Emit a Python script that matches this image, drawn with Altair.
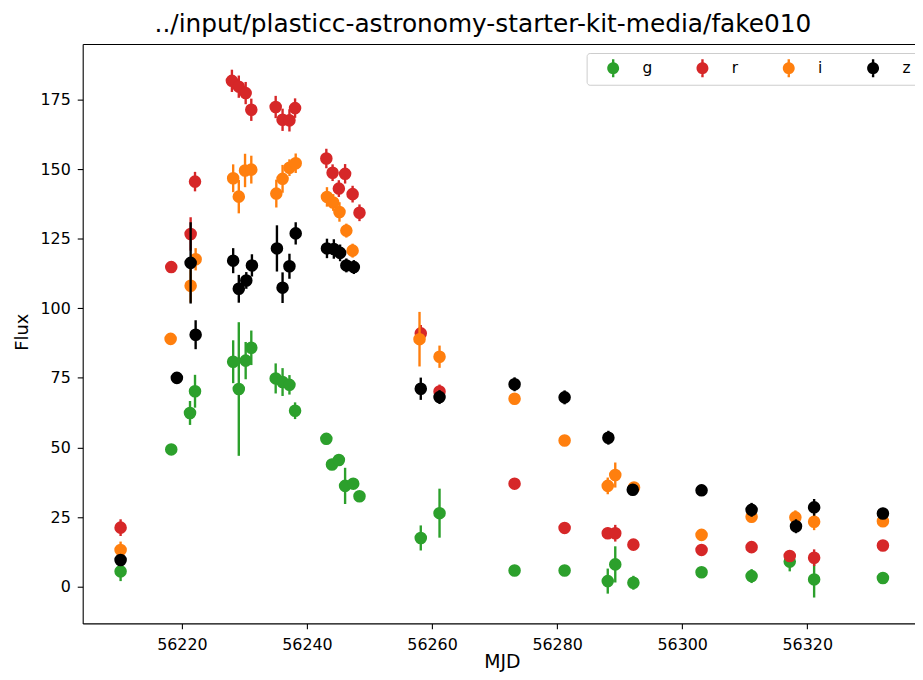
import altair as alt
import pandas as pd

TITLE = "../input/plasticc-astronomy-starter-kit-media/fake010"
bands = ["g", "r", "i", "z"]
band_colors = ["#2ca02c", "#d62728", "#ff7f0e", "#000000"]
x_ticks = [56220, 56240, 56260, 56280, 56300, 56320]
y_ticks = [0, 25, 50, 75, 100, 125, 150, 175]

mjd_g = [56210.2, 56218.3, 56221.3, 56222.1, 56228.2, 56229.1, 56230.2, 56231.1, 56235.0, 56236.1,
         56237.2, 56238.1, 56243.1, 56244.0, 56245.1, 56246.1, 56247.4, 56248.4, 56258.2, 56261.2,
         56273.2, 56281.2, 56288.1, 56289.3, 56292.2, 56303.1, 56311.1, 56317.2, 56321.1, 56332.1]
flux_g = [5.5, 49.3, 62.4, 70.2, 80.8, 71.0, 81.2, 85.8, 74.8, 73.5,
          72.5, 63.2, 53.1, 43.9, 45.5, 36.2, 37.0, 32.5, 17.5, 26.4,
          5.8, 5.8, 2.0, 8.0, 1.4, 5.2, 3.8, 9.0, 2.6, 3.1]
err_g = [3.5, 1.5, 4.3, 5.9, 7.7, 24.0, 6.7, 6.2, 5.4, 5.0,
         3.5, 3.0, 2.0, 2.0, 1.5, 6.5, 1.0, 1.0, 4.5, 8.8,
         1.0, 1.0, 4.5, 6.5, 2.5, 1.0, 2.5, 3.5, 6.5, 1.0]

mjd_r = [56210.2, 56218.3, 56221.4, 56222.1, 56228.0, 56229.1, 56230.2, 56231.1, 56235.0, 56236.1,
         56237.2, 56238.1, 56243.1, 56244.1, 56245.1, 56246.1, 56247.3, 56248.4, 56258.2, 56261.2,
         56273.2, 56281.2, 56288.1, 56289.3, 56292.2, 56303.1, 56311.1, 56317.2, 56321.1, 56332.1]
flux_r = [21.2, 114.8, 126.7, 145.5, 181.7, 179.6, 177.3, 171.3, 172.3, 167.7,
          167.5, 171.9, 153.8, 148.7, 143.0, 148.3, 141.0, 134.3, 91.0, 70.1,
          37.0, 21.1, 19.2, 19.2, 15.1, 13.2, 14.2, 11.0, 10.4, 14.8]
err_r = [3.0, 2.0, 6.0, 3.5, 4.0, 4.0, 4.0, 4.0, 4.0, 4.0,
         4.0, 3.5, 3.5, 3.0, 3.0, 3.5, 3.0, 3.0, 3.0, 2.5,
         1.0, 1.0, 2.0, 3.0, 1.0, 1.0, 1.0, 1.5, 3.0, 1.0]

mjd_i = [56210.2, 56218.2, 56221.4, 56222.2, 56228.2, 56229.1, 56230.1, 56231.1, 56235.1, 56236.1,
         56237.2, 56238.2, 56243.2, 56244.2, 56245.2, 56246.3, 56247.3, 56258.0, 56261.2, 56273.2,
         56281.2, 56288.1, 56289.3, 56292.3, 56303.1, 56311.1, 56318.1, 56321.1, 56332.1]
flux_i = [13.2, 89.0, 108.1, 117.6, 146.7, 140.1, 149.5, 149.8, 141.2, 146.5,
          150.5, 152.1, 140.0, 138.0, 134.6, 127.9, 120.7, 88.9, 82.6, 67.5,
          52.5, 36.2, 40.1, 35.6, 18.6, 25.1, 24.9, 23.3, 23.5]
err_i = [3.0, 1.5, 6.0, 4.0, 5.0, 6.0, 6.0, 5.0, 5.0, 5.0,
         3.0, 3.5, 3.5, 3.0, 3.5, 2.5, 2.5, 9.8, 4.0, 2.0,
         1.0, 3.0, 4.5, 2.0, 1.0, 2.0, 2.5, 3.0, 1.5]

mjd_z = [56210.2, 56219.2, 56221.4, 56222.2, 56228.2, 56229.1, 56230.3, 56231.2, 56235.2, 56236.1,
         56237.2, 56238.2, 56243.2, 56244.3, 56245.3, 56246.3, 56247.5, 56258.2, 56261.2, 56273.2,
         56281.2, 56288.2, 56292.1, 56303.1, 56311.1, 56318.2, 56321.1, 56332.1]
flux_z = [9.6, 75.0, 116.3, 90.5, 117.1, 107.0, 110.0, 115.4, 121.5, 107.4,
          115.1, 126.9, 121.5, 121.3, 119.9, 115.4, 114.8, 71.1, 68.1, 72.7,
          68.0, 53.5, 34.8, 34.6, 27.6, 21.7, 28.5, 26.3]
err_z = [1.5, 2.0, 14.6, 5.2, 4.5, 5.0, 3.0, 4.0, 8.3, 5.5,
         4.5, 4.0, 3.5, 3.5, 3.0, 2.5, 2.5, 4.0, 2.5, 2.5,
         2.5, 2.5, 2.0, 2.0, 2.5, 2.5, 3.0, 2.0]

series = {"g": (mjd_g, flux_g, err_g), "r": (mjd_r, flux_r, err_r),
          "i": (mjd_i, flux_i, err_i), "z": (mjd_z, flux_z, err_z)}
frames = []
for b in bands:
    m, f, e = series[b]
    d = pd.DataFrame({"band": b, "mjd": m, "flux": f, "err": e})
    d["lo"] = d["flux"] - d["err"]
    d["hi"] = d["flux"] + d["err"]
    frames.append(d)
df = pd.concat(frames, ignore_index=True)

FONT = "DejaVu Sans"
W, H = 839, 584
xs = alt.Scale(domain=[56204.14, 56337.23], nice=False, zero=False)
ys = alt.Scale(domain=[-13.2, 194.9], nice=False, zero=False)
cs = alt.Scale(domain=bands, range=band_colors)

axis_common = dict(domainColor="black", domainWidth=1.1, tickColor="black", tickWidth=1.1,
                   tickSize=5.5, labelFont=FONT, labelFontSize=16, labelColor="black",
                   grid=False, titleFont=FONT, titleFontWeight="normal", titleColor="black")

x_bottom = alt.Axis(orient="bottom", values=x_ticks, format="d", labelPadding=7.5, title="MJD",
                    titleFontSize=19, titleX=W / 2 + 3, titleY=44, titleAlign="center",
                    titleBaseline="alphabetic", labelFlush=False, **axis_common)
x_top = alt.Axis(orient="top", labels=False, ticks=False, title=None, domain=True,
                 domainColor="black", domainWidth=1.1, grid=False)
y_left = alt.Axis(orient="left", values=y_ticks, labelPadding=7, title="Flux",
                  titleFontSize=18, titleAngle=270, titleX=-61, titleY=290,
                  titleAlign="center", titleBaseline="middle", labelFlush=False, **axis_common)

legend_symbol = ("M-1,0A1,1,0,1,1,1,0A1,1,0,1,1,-1,0Z"
                 "M-0.2,-1.5L0.2,-1.5L0.2,1.5L-0.2,1.5Z")
legend = alt.Legend(orient="none", legendX=508, legendY=9, direction="horizontal", title=None,
                    symbolType=legend_symbol, symbolSize=144, symbolStrokeWidth=0,
                    symbolOffset=11.5, labelOffset=21.8, columnPadding=31,
                    labelFont=FONT, labelFontSize=15.5, labelColor="black",
                    padding=7.5, strokeColor="#cccccc", fillColor="white",
                    cornerRadius=3, gridAlign="each")

layers = []
for k, b in enumerate(bands):
    base = alt.Chart(df).transform_filter(alt.datum.band == b)
    rule = base.mark_rule(strokeWidth=2.4, color=band_colors[k]).encode(
        x=alt.X("mjd:Q", scale=xs, axis=x_bottom if k == 0 else None),
        y=alt.Y("lo:Q", scale=ys, axis=y_left if k == 0 else None),
        y2="hi:Q",
    )
    pt = base.mark_circle(size=160, opacity=1).encode(
        x=alt.X("mjd:Q", scale=xs, axis=x_top if k == 0 else None),
        y=alt.Y("flux:Q", scale=ys, axis=None),
        color=alt.Color("band:N", scale=cs, legend=legend),
    )
    layers += [rule, pt]

chart = alt.layer(*layers).resolve_axis(x="independent", y="independent").properties(
    width=W, height=H,
    autosize=alt.AutoSizeParams(type="none"),
    padding={"left": 75.3, "top": 33.7, "right": 0, "bottom": 46.3},
    title=alt.TitleParams(TITLE, font=FONT, fontSize=25, fontWeight="normal", color="black",
                          anchor="middle", frame="group", offset=7.5, dx=-16),
).configure_view(stroke=None)

chart.save("out.html", embed_options={"renderer": "svg", "actions": False})
